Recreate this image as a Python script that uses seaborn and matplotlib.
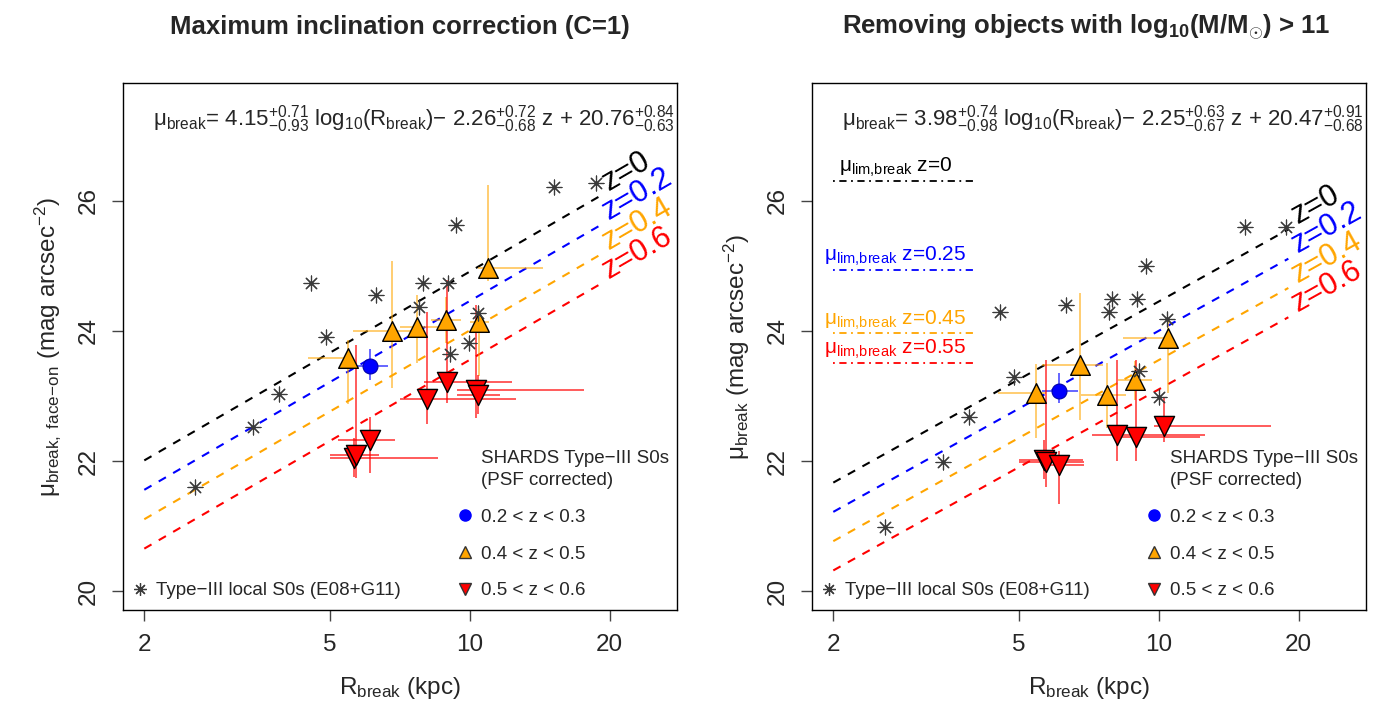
import numpy as np
import pandas as pd
import matplotlib
matplotlib.use("Agg")
import matplotlib.pyplot as plt
import seaborn as sns
from matplotlib.lines import Line2D
from matplotlib.ticker import NullLocator

sns.set_style("ticks")
plt.rcParams['font.family'] = ['Liberation Sans', 'DejaVu Sans']
plt.rcParams['mathtext.fontset'] = 'custom'
plt.rcParams['mathtext.rm'] = 'Liberation Sans'
plt.rcParams['mathtext.it'] = 'Liberation Sans:italic'
plt.rcParams['mathtext.bf'] = 'Liberation Sans:bold'
plt.rcParams['mathtext.sf'] = 'Liberation Sans'

# ---------------- data ----------------
x_ticks = [2, 5, 10, 20]
y_ticks = [20, 22, 24, 26]
z_lines = [0.0, 0.2, 0.4, 0.6]
z_line_labels = ["z=0", "z=0.2", "z=0.4", "z=0.6"]
line_R = [2.0, 19.0]

# Left panel: maximum inclination correction
L_fit = dict(a=4.15, b=-2.26, c=20.76)
L_star_R = [2.57, 3.43, 3.90, 4.56, 4.91, 6.29, 7.80, 7.93, 8.97, 9.07, 9.34, 9.96, 10.4, 15.2, 18.7]
L_star_mu = [21.60, 22.53, 23.03, 24.73, 23.91, 24.55, 24.36, 24.74, 24.74, 23.65, 25.63, 23.82, 24.27, 26.21, 26.28]

L_blue_R = [6.11]
L_blue_mu = [23.46]
L_blue_Rlo, L_blue_Rhi = [0.48], [0.58]
L_blue_mulo, L_blue_muhi = [0.21], [0.26]

L_or_R = [5.47, 6.80, 7.69, 8.88, 10.5, 10.96]
L_or_mu = [23.58, 24.00, 24.06, 24.17, 24.14, 24.96]
L_or_Rlo = [0.97, 1.17, 0.60, 0.61, 0.50, 0.56]
L_or_Rhi = [0.16, 1.10, 0.86, 0.72, 0.50, 3.40]
L_or_mulo = [0.70, 0.88, 0.56, 0.35, 0.84, 0.20]
L_or_muhi = [0.28, 1.07, 0.49, 0.35, 0.20, 1.28]

L_red_R = [5.65, 5.70, 6.11, 8.11, 8.93, 10.3, 10.4]
L_red_mu = [22.05, 22.10, 22.32, 22.95, 23.22, 23.09, 23.02]
L_red_Rlo = [0.65, 0.70, 0.90, 1.02, 0.96, 0.90, 1.00]
L_red_Rhi = [2.90, 0.70, 0.80, 4.50, 3.40, 7.30, 1.20]
L_red_mulo = [0.30, 0.36, 0.51, 0.38, 0.33, 0.43, 0.30]
L_red_muhi = [0.30, 1.68, 0.36, 1.34, 1.56, 1.31, 0.30]

# Right panel: removing massive objects
R_fit = dict(a=3.98, b=-2.25, c=20.47)
R_star_R = [2.58, 3.44, 3.91, 4.56, 4.90, 6.32, 7.81, 7.96, 8.98, 9.08, 9.39, 10.0, 10.4, 15.3, 18.8]
R_star_mu = [20.98, 21.98, 22.68, 24.29, 23.29, 24.40, 24.29, 24.49, 24.49, 23.39, 24.99, 22.98, 24.18, 25.59, 25.59]

R_blue_R = [6.12]
R_blue_mu = [23.08]
R_blue_Rlo, R_blue_Rhi = [0.49], [0.58]
R_blue_mulo, R_blue_muhi = [0.19], [0.27]

R_or_R = [5.45, 6.79, 7.73, 8.91, 10.5]
R_or_mu = [23.04, 23.48, 23.02, 23.24, 23.89]
R_or_Rlo = [0.94, 1.16, 0.93, 0.71, 2.10]
R_or_Rhi = [0.28, 0.81, 0.77, 0.79, 0.10]
R_or_mulo = [0.69, 0.85, 0.52, 0.30, 0.84]
R_or_muhi = [0.45, 1.10, 0.48, 0.30, 0.30]

R_red_R = [5.68, 5.73, 6.12, 8.14, 8.94, 10.28]
R_red_mu = [22.02, 21.99, 21.94, 22.40, 22.37, 22.54]
R_red_Rlo = [0.68, 0.73, 0.52, 0.94, 0.80, 0.50]
R_red_Rhi = [1.20, 1.17, 0.78, 4.46, 3.36, 7.20]
R_red_mulo = [0.30, 0.39, 0.60, 0.40, 0.37, 0.25]
R_red_muhi = [0.30, 1.56, 0.22, 1.15, 1.18, 0.45]

lim_mu = [26.31, 24.94, 23.96, 23.51]
lim_labels = ["0", "0.25", "0.45", "0.55"]
lim_R = [2.0, 4.0]

line_colors = ["black", "#0000FF", "#FFA500", "#FF0000"]

titles = ["Maximum inclination correction (C=1)",
          r"Removing objects with log$_{\mathbf{10}}$(M/M$_{\odot}$) > 11"]
eqs = [r"μ$_{\rm break}$= 4.15$^{+0.71}_{-0.93}$ log$_{10}$(R$_{\rm break}$)$-$ 2.26$^{+0.72}_{-0.68}$ z + 20.76$^{+0.84}_{-0.63}$",
       r"μ$_{\rm break}$= 3.98$^{+0.74}_{-0.98}$ log$_{10}$(R$_{\rm break}$)$-$ 2.25$^{+0.63}_{-0.67}$ z + 20.47$^{+0.91}_{-0.68}$"]
ylabels = [r"μ$_{\rm break,\ face\!-\!on}$ (mag arcsec$^{-2}$)",
           r"μ$_{\rm break}$ (mag arcsec$^{-2}$)"]
xlabel = r"R$_{\rm break}$ (kpc)"

# ---------------- figure ----------------
W, H = 1378, 711
fig = plt.figure(figsize=(W / 100, H / 100), dpi=100)
axL = fig.add_axes([123 / W, 1 - 610 / H, 554 / W, 527 / H])
axR = fig.add_axes([812 / W, 1 - 610 / H, 554 / W, 527 / H])


def errbars(ax, R, mu, Rlo, Rhi, mlo, mhi, color, alpha):
    ax.errorbar(R, mu, xerr=[Rlo, Rhi], yerr=[mlo, mhi], fmt='none',
                ecolor=color, elinewidth=1.2, capsize=0, alpha=alpha, zorder=2)


def panel(ax, fit, star_R, star_mu, blue, orange, red):
    ax.set_xscale('log')
    ax.set_xlim(1.80, 27.9)
    ax.set_ylim(19.71, 27.81)
    # fit lines
    for z, col in zip(z_lines, line_colors):
        yy = [fit['a'] * np.log10(r) + fit['b'] * z + fit['c'] for r in line_R]
        sns.lineplot(x=line_R, y=yy, ax=ax, color=col, lw=1.5,
                     linestyle=(0, (4, 4)), zorder=1)
    # error bars
    errbars(ax, *blue, '#0000FF', 0.7)
    errbars(ax, *orange, '#FFA500', 0.65)
    errbars(ax, *red, '#FF0000', 0.75)
    # local S0s
    sns.scatterplot(x=star_R, y=star_mu, ax=ax, marker=(8, 2, 0), s=115,
                    color='#3a3a3a', linewidth=0.85, zorder=5, legend=False)
    sns.scatterplot(x=blue[0], y=blue[1], ax=ax, marker='o', s=115,
                    color='#0000FF', edgecolor='#0000aa', linewidth=0.8, zorder=4, legend=False)
    sns.scatterplot(x=orange[0], y=orange[1], ax=ax, marker='^', s=200,
                    color='#FFA500', edgecolor='black', linewidth=1.0, zorder=4, legend=False)
    sns.scatterplot(x=red[0], y=red[1], ax=ax, marker='v', s=210,
                    color='#FF0000', edgecolor='black', linewidth=1.0, zorder=4, legend=False)
    # ticks
    ax.set_xticks(x_ticks)
    ax.set_xticklabels([str(t) for t in x_ticks])
    ax.xaxis.set_minor_locator(NullLocator())
    ax.set_yticks(y_ticks)
    ax.set_yticklabels([str(t) for t in y_ticks], rotation=90, va='center')
    ax.tick_params(direction='out', length=8, width=1, labelsize=17.5, color='#444444', pad=9)
    for sp in ax.spines.values():
        sp.set_linewidth(1.0)
        sp.set_color('black')
    # line labels
    fig.canvas.draw()
    for z, col, lab in zip(z_lines, line_colors, z_line_labels):
        p1 = ax.transData.transform((line_R[0], fit['a'] * np.log10(line_R[0]) + fit['b'] * z + fit['c']))
        p2 = ax.transData.transform((line_R[1], fit['a'] * np.log10(line_R[1]) + fit['b'] * z + fit['c']))
        ang = np.degrees(np.arctan2(p2[1] - p1[1], p2[0] - p1[0]))
        r0 = 19.9
        ax.text(r0, fit['a'] * np.log10(r0) + fit['b'] * z + fit['c'], lab, color=col,
                fontsize=22, rotation=ang, rotation_mode='anchor', ha='left', va='baseline', zorder=6)
    # legends
    hd = [Line2D([], [], ls='none'),
          Line2D([], [], marker='o', ls='none', mfc='#0000FF', mec='#0000FF', ms=8),
          Line2D([], [], marker='^', ls='none', mfc='#FFA500', mec='#333333', ms=9),
          Line2D([], [], marker='v', ls='none', mfc='#FF0000', mec='#333333', ms=9)]
    lb = ["SHARDS Type\u2212III S0s\n(PSF corrected)", "0.2 < z < 0.3", "0.4 < z < 0.5", "0.5 < z < 0.6"]
    leg1 = ax.legend(hd, lb, loc='lower left', bbox_to_anchor=(0.567, -0.012), frameon=False,
                     fontsize=13.5, labelspacing=1.05, handletextpad=0.25, handlelength=1.2)
    for t in leg1.get_texts()[:1]:
        t.set_linespacing(1.35)
    ax.add_artist(leg1)
    hs = [Line2D([], [], marker=(8, 2, 0), ls='none', color='#3a3a3a', ms=9, mew=0.9)]
    ax.legend(hs, ["Type\u2212III local S0s (E08+G11)"], loc='lower left',
              bbox_to_anchor=(-0.02, -0.012), frameon=False, fontsize=13.5,
              handletextpad=0.25, handlelength=1.2)


panel(axL, L_fit, L_star_R, L_star_mu,
      (L_blue_R, L_blue_mu, L_blue_Rlo, L_blue_Rhi, L_blue_mulo, L_blue_muhi),
      (L_or_R, L_or_mu, L_or_Rlo, L_or_Rhi, L_or_mulo, L_or_muhi),
      (L_red_R, L_red_mu, L_red_Rlo, L_red_Rhi, L_red_mulo, L_red_muhi))
panel(axR, R_fit, R_star_R, R_star_mu,
      (R_blue_R, R_blue_mu, R_blue_Rlo, R_blue_Rhi, R_blue_mulo, R_blue_muhi),
      (R_or_R, R_or_mu, R_or_Rlo, R_or_Rhi, R_or_mulo, R_or_muhi),
      (R_red_R, R_red_mu, R_red_Rlo, R_red_Rhi, R_red_mulo, R_red_muhi))

# limit lines on the right panel
for m, lab, col in zip(lim_mu, lim_labels, line_colors):
    sns.lineplot(x=lim_R, y=[m, m], ax=axR, color=col, lw=1.3,
                 linestyle=(0, (1, 2.5, 4, 2.5)), zorder=1)
    axR.text(2.72, m + 0.03, r"μ$_{\rm lim{,}break}$ z=" + lab, color=col, fontsize=15,
             ha='center', va='bottom')

for ax, t, eq, yl, cx in zip([axL, axR], titles, eqs, ylabels, [400, 1086]):
    ax.text(0.997, 0.932, eq, transform=ax.transAxes, ha='right', va='center', fontsize=16)
    ax.set_xlabel(xlabel, fontsize=17.5, labelpad=14)
    ax.set_ylabel(yl, fontsize=17.5, labelpad=10)
    fig.text(cx / W, 1 - 27 / H, t, ha='center', va='center', fontsize=18.5, fontweight='bold')

fig.savefig("out.png", dpi=100)
